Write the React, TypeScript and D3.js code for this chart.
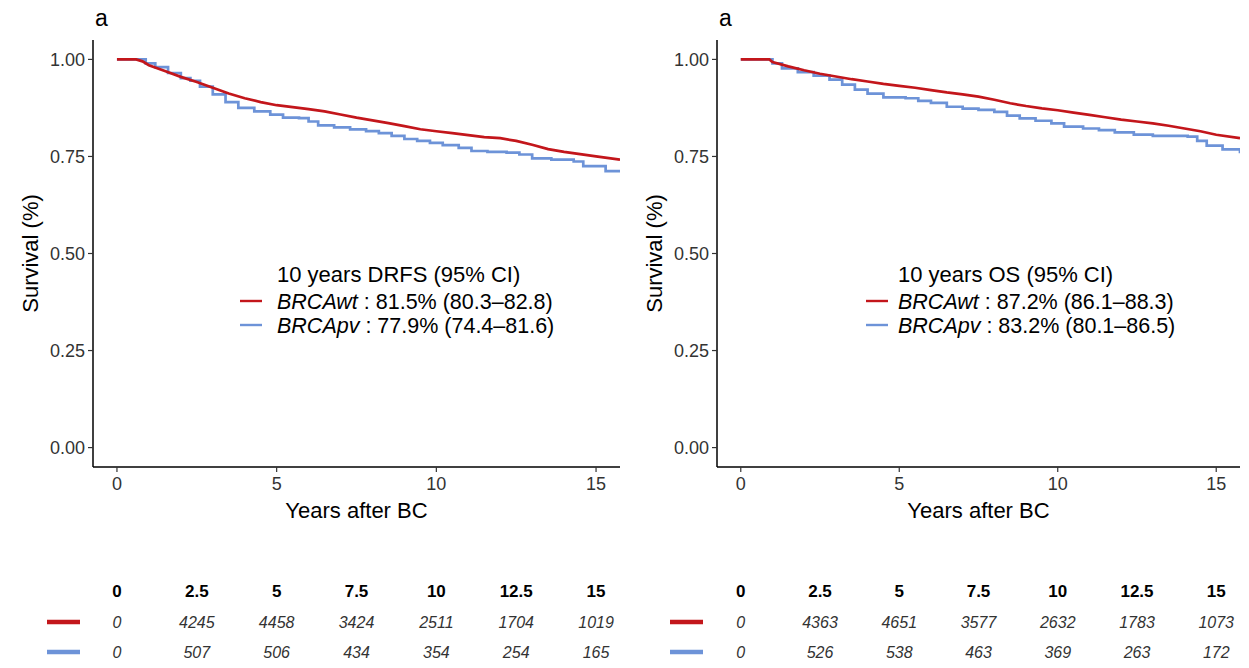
import React from "react";
import * as d3 from "d3";

// ---------- data ----------
const riskTimes = [0, 2.5, 5, 7.5, 10, 12.5, 15];
const xTicks = [0, 5, 10, 15];
const yTicks = [0, 0.25, 0.5, 0.75, 1.0];

// DRFS curves (time in years, survival)
const drfsWt: [number, number][] = [
  [0, 1], [0.6, 1], [0.8, 0.995], [1.0, 0.985], [1.5, 0.97], [2.0, 0.955], [2.5, 0.942],
  [3.0, 0.927], [3.5, 0.912], [4.0, 0.9], [4.5, 0.89], [5.0, 0.882], [5.5, 0.877],
  [6.0, 0.872], [6.5, 0.866], [7.0, 0.858], [7.5, 0.85], [8.0, 0.843], [8.5, 0.836],
  [9.0, 0.828], [9.5, 0.82], [10, 0.815], [10.5, 0.81], [11, 0.805], [11.5, 0.8],
  [12, 0.797], [12.5, 0.79], [13, 0.78], [13.5, 0.769], [14, 0.762], [14.5, 0.756],
  [15, 0.75], [15.75, 0.742],
];
const drfsPv: [number, number][] = [
  [0, 1], [0.7, 1], [0.9, 0.99], [1.2, 0.98], [1.6, 0.965], [2.0, 0.952], [2.3, 0.945],
  [2.6, 0.93], [3.0, 0.91], [3.4, 0.89], [3.8, 0.875], [4.3, 0.866], [4.8, 0.858],
  [5.2, 0.85], [5.7, 0.849], [6.0, 0.84], [6.3, 0.83], [6.8, 0.825], [7.3, 0.82],
  [7.8, 0.815], [8.2, 0.81], [8.6, 0.803], [9.0, 0.795], [9.4, 0.79], [9.8, 0.785],
  [10.2, 0.779], [10.7, 0.772], [11.1, 0.764], [11.6, 0.762], [12.2, 0.76], [12.6, 0.755],
  [13.0, 0.745], [13.6, 0.742], [14.3, 0.737], [14.6, 0.725], [15.3, 0.712], [15.75, 0.71],
];
// OS curves
const osWt: [number, number][] = [
  [0, 1], [0.9, 1], [1.0, 0.993], [1.5, 0.982], [2, 0.972], [2.5, 0.963], [3, 0.956],
  [3.5, 0.949], [4, 0.943], [4.5, 0.937], [5, 0.932], [5.5, 0.927], [6, 0.921],
  [6.5, 0.915], [7, 0.91], [7.5, 0.904], [8, 0.896], [8.5, 0.887], [9, 0.88],
  [9.5, 0.874], [10, 0.869], [10.5, 0.863], [11, 0.857], [11.5, 0.851], [12, 0.845],
  [12.5, 0.84], [13, 0.835], [13.5, 0.829], [14, 0.822], [14.5, 0.815], [15, 0.806],
  [15.75, 0.797],
];
const osPv: [number, number][] = [
  [0, 1], [0.85, 1], [1.0, 0.99], [1.3, 0.977], [1.8, 0.967], [2.3, 0.958], [2.8, 0.948],
  [3.2, 0.935], [3.6, 0.922], [4.0, 0.912], [4.5, 0.902], [5.2, 0.9], [5.6, 0.893],
  [6.0, 0.888], [6.5, 0.878], [7.0, 0.873], [7.5, 0.87], [8.0, 0.865], [8.4, 0.855],
  [8.8, 0.848], [9.3, 0.842], [9.8, 0.835], [10.2, 0.827], [10.8, 0.822], [11.3, 0.818],
  [11.8, 0.812], [12.4, 0.806], [13.0, 0.803], [14.1, 0.801], [14.4, 0.79], [14.7, 0.778],
  [15.2, 0.768], [15.75, 0.758],
];

const drfsRiskWt = ["0", "4245", "4458", "3424", "2511", "1704", "1019"];
const drfsRiskPv = ["0", "507", "506", "434", "354", "254", "165"];
const osRiskWt = ["0", "4363", "4651", "3577", "2632", "1783", "1073"];
const osRiskPv = ["0", "526", "538", "463", "369", "263", "172"];

const drfsLegend = {
  title: "10 years DRFS (95% CI)",
  wt: " : 81.5% (80.3\u201382.8)",
  pv: " : 77.9% (74.4\u201381.6)",
};
const osLegend = {
  title: "10 years OS (95% CI)",
  wt: " : 87.2% (86.1\u201388.3)",
  pv: " : 83.2% (80.1\u201386.5)",
};

const RED = "#C3161B";
const BLUE = "#6D93D8";
const FONT = "'Liberation Sans', Arial, sans-serif";

type PanelProps = {
  id: string;
  x0: number;
  x1: number;
  clipRight: number;
  wt: [number, number][];
  pv: [number, number][];
  legend: { title: string; wt: string; pv: string };
  legendLineX: number;
  legendTextX: number;
  riskWt: string[];
  riskPv: string[];
  swatchX: number;
};

function Panel(p: PanelProps) {
  const x = d3.scaleLinear().domain([-0.75, 15.75]).range([p.x0, p.x1]);
  const y = d3.scaleLinear().domain([-0.05, 1.05]).range([467, 40]);
  const stepLine = d3
    .line<[number, number]>()
    .x((d) => x(d[0]))
    .y((d) => y(d[1]))
    .curve(d3.curveStepAfter);
  const smoothLine = d3
    .line<[number, number]>()
    .x((d) => x(d[0]))
    .y((d) => y(d[1]))
    .curve(d3.curveLinear);
  const midX = (p.x0 + p.x1) / 2;
  return (
    <g>
      <defs>
        <clipPath id={"clip-" + p.id}>
          <rect x={p.x0} y={30} width={p.x1 - p.x0} height={450} />
        </clipPath>
        <clipPath id={"cliptab-" + p.id}>
          <rect x={p.x0 - 100} y={560} width={p.clipRight - p.x0 + 100} height={108} />
        </clipPath>
      </defs>
      {/* panel tag */}
      <text x={p.x0 + 2} y={26} fontSize={23} fontFamily={FONT} fill="#000">a</text>
      {/* curves */}
      <g clipPath={`url(#clip-${p.id})`}>
        <path d={stepLine(p.pv) || ""} fill="none" stroke={BLUE} strokeWidth={2.7} />
        <path d={smoothLine(p.wt) || ""} fill="none" stroke={RED} strokeWidth={2.7} />
      </g>
      {/* axes */}
      <line x1={p.x0} x2={p.x0} y1={40} y2={467} stroke="#000" strokeWidth={1.5} />
      <line x1={p.x0} x2={p.x1} y1={467} y2={467} stroke="#000" strokeWidth={1.5} />
      {yTicks.map((t) => (
        <g key={"y" + t}>
          <line x1={p.x0 - 5} x2={p.x0} y1={y(t)} y2={y(t)} stroke="#333" strokeWidth={1.2} />
          <text x={p.x0 - 8} y={y(t)} dy="0.36em" textAnchor="end" fontSize={18} fontFamily={FONT} fill="#333">
            {t.toFixed(2)}
          </text>
        </g>
      ))}
      {xTicks.map((t) => (
        <g key={"x" + t}>
          <line x1={x(t)} x2={x(t)} y1={467} y2={472} stroke="#333" strokeWidth={1.2} />
          <text x={x(t)} y={490} textAnchor="middle" fontSize={18} fontFamily={FONT} fill="#333">
            {t}
          </text>
        </g>
      ))}
      <text x={midX} y={518} textAnchor="middle" fontSize={22} fontFamily={FONT} fill="#000">
        Years after BC
      </text>
      <text
        transform={`translate(${p.x0 - 55},${y(0.5)}) rotate(-90)`}
        textAnchor="middle"
        fontSize={22}
        fontFamily={FONT}
        fill="#000"
      >
        Survival (%)
      </text>
      {/* legend */}
      <text x={p.legendTextX} y={274} dy="0.35em" fontSize={22} fontFamily={FONT} fill="#000">
        {p.legend.title}
      </text>
      <line x1={p.legendLineX} x2={p.legendLineX + 22} y1={301} y2={301} stroke={RED} strokeWidth={2.4} />
      <text x={p.legendTextX} y={301} dy="0.35em" fontSize={21.5} fontFamily={FONT} fill="#000">
        <tspan fontStyle="italic">BRCAwt</tspan>
        <tspan>{p.legend.wt}</tspan>
      </text>
      <line x1={p.legendLineX} x2={p.legendLineX + 22} y1={325} y2={325} stroke={BLUE} strokeWidth={2.4} />
      <text x={p.legendTextX} y={325} dy="0.35em" fontSize={21.5} fontFamily={FONT} fill="#000">
        <tspan fontStyle="italic">BRCApv</tspan>
        <tspan>{p.legend.pv}</tspan>
      </text>
      {/* risk table */}
      <g clipPath={`url(#cliptab-${p.id})`}>
        {riskTimes.map((t) => (
          <text key={"h" + t} x={x(t)} y={591} dy="0.35em" textAnchor="middle" fontSize={17} fontWeight="bold" fontFamily={FONT} fill="#000">
            {t}
          </text>
        ))}
        {p.riskWt.map((v, i) => (
          <text key={"w" + i} x={x(riskTimes[i])} y={622} dy="0.35em" textAnchor="middle" fontSize={16} fontStyle="italic" fontFamily={FONT} fill="#333">
            {v}
          </text>
        ))}
        {p.riskPv.map((v, i) => (
          <text key={"p" + i} x={x(riskTimes[i])} y={652} dy="0.35em" textAnchor="middle" fontSize={16} fontStyle="italic" fontFamily={FONT} fill="#333">
            {v}
          </text>
        ))}
      </g>
      <line x1={p.swatchX} x2={p.swatchX + 33} y1={622} y2={622} stroke={RED} strokeWidth={4.5} />
      <line x1={p.swatchX} x2={p.swatchX + 33} y1={652} y2={652} stroke={BLUE} strokeWidth={4.5} />
    </g>
  );
}

export default function App() {
  return (
    <svg width={1249} height={668} style={{ position: "absolute", left: 0, top: 0, background: "#fff" }}>
      <rect x={0} y={0} width={1249} height={668} fill="#fff" />
      <Panel
        id="drfs"
        x0={93}
        x1={620}
        clipRight={629}
        wt={drfsWt}
        pv={drfsPv}
        legend={drfsLegend}
        legendLineX={240}
        legendTextX={277}
        riskWt={drfsRiskWt}
        riskPv={drfsRiskPv}
        swatchX={47}
      />
      <Panel
        id="os"
        x0={717}
        x1={1240}
        clipRight={1249}
        wt={osWt}
        pv={osPv}
        legend={osLegend}
        legendLineX={866}
        legendTextX={898}
        riskWt={osRiskWt}
        riskPv={osRiskPv}
        swatchX={670}
      />
    </svg>
  );
}
